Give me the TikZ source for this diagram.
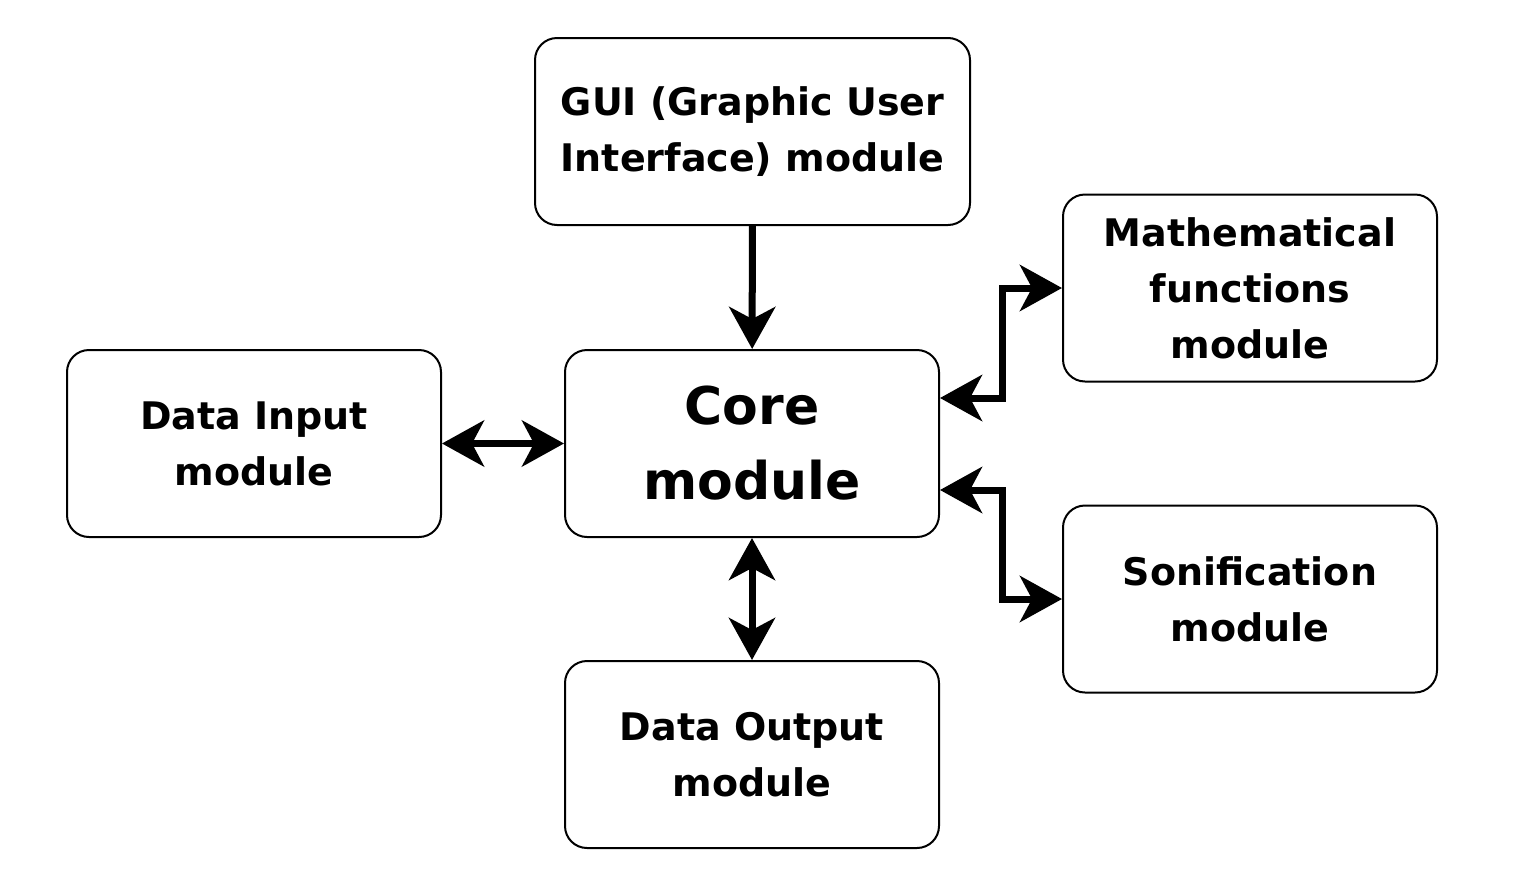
\documentclass[tikz,border=0pt]{standalone}
\usepackage{fontspec}
\setmainfont{DejaVu Sans}
\usetikzlibrary{arrows.meta}

\begin{document}
\begin{tikzpicture}[x=1pt,y=-1pt,
  >={Stealth[length=42pt,width=46pt,inset=12pt]},
  module/.style={draw,line width=2pt,rounded corners=22pt,minimum width=374pt,minimum height=187pt,inner sep=0pt,align=center,font=\fontsize{38}{56}\selectfont\bfseries},
  link/.style={line width=7pt}]
\path[use as bounding box] (0,0) rectangle (1524,892);
\node[module,minimum width=435pt] (gui) at (752.5,131.5) {GUI (Graphic User\\Interface) module};
\node[module] (math) at (1250,288) {Mathematical\\functions\\module};
\node[module] (input) at (254,443.5) {Data Input\\module};
\node[module,font=\fontsize{52}{75}\selectfont\bfseries] (core) at (752,443.5) {Core\\module};
\node[module] (sonif) at (1250,599) {Sonification\\module};
\node[module] (output) at (752,754.5) {Data Output\\module};
\draw[link,->] (gui) -- (core);
\draw[link,<->] (input) -- (core);
\draw[link,<->] (core) -- (output);
\draw[link,<->] ([yshift=45.5pt]core.east) -- ++(62,0) |- (math.west);
\draw[link,<->] ([yshift=-46.5pt]core.east) -- ++(62,0) |- (sonif.west);
\end{tikzpicture}
\end{document}
